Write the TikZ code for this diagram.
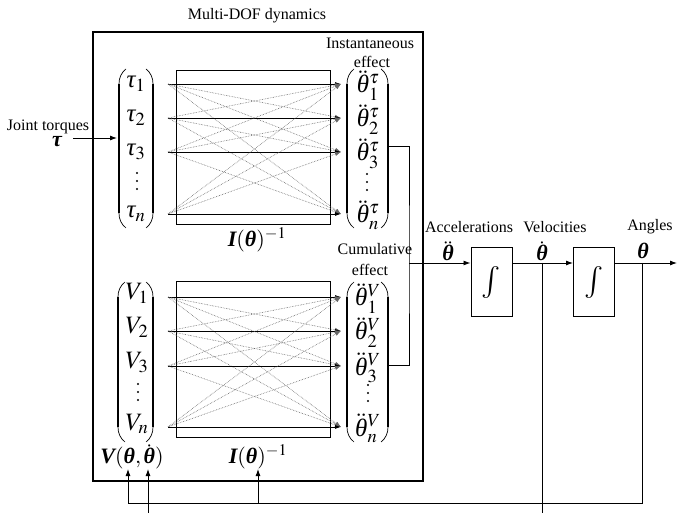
\documentclass[tikz,border=0pt]{standalone}
\usepackage{mathptmx}
\usepackage[no-math]{fontspec}
\setmainfont{Liberation Serif}
\usetikzlibrary{arrows.meta}

% italic and bold italic Greek taken from the text font
\newcommand\ith{\mbox{\itshape θ}}
\newcommand\itau{\mbox{\itshape τ}}
\newcommand\Bth{\mbox{\bfseries\itshape θ}}
\newcommand\Btau{\mbox{\bfseries\itshape τ}}

% tall vector parentheses: left x, right x, top y, bottom y
\newcommand\vecparens[4]{%
  \draw[line width=0.7pt] (#1+7,#3) .. controls (#1+2,#3+4) and (#1,#3+9) .. (#1,#3+15)
        -- (#1,#4-15) .. controls (#1,#4-9) and (#1+2,#4-4) .. (#1+7,#4);
  \draw[line width=2.6pt] (#1,#3+15) -- (#1,#4-15);
  \draw[line width=0.7pt] (#2-7,#3) .. controls (#2-2,#3+4) and (#2,#3+9) .. (#2,#3+15)
        -- (#2,#4-15) .. controls (#2,#4-9) and (#2-2,#4-4) .. (#2-7,#4);
  \draw[line width=2.6pt] (#2,#3+15) -- (#2,#4-15);
}
% vertical ellipsis of a vector: x, y of the middle dot
\newcommand\vdotsat[2]{%
  \foreach \d in {-8,0,8} \fill (#1,#2+\d) circle (1.15pt);
}

\begin{document}
\begin{tikzpicture}[x=1pt,y=-1pt,
  lbl/.style={font=\fontsize{16}{18}\selectfont, inner sep=0pt},
  mth/.style={font=\fontsize{22}{26}\selectfont, inner sep=0pt},
  ent/.style={font=\fontsize{25}{28}\selectfont, inner sep=0pt, anchor=base},
  frame/.style={draw, line width=1.1pt},
  wire/.style={line width=0.9pt},
  arr/.style={wire, -{Latex[length=7pt,width=5pt]}},
  fan/.style={black!60, densely dotted, line width=0.6pt, -{Latex[length=6pt,width=4pt]}},
  direct/.style={line width=0.8pt, -{Latex[length=6pt,width=4pt]}},
  intbox/.style={draw, line width=1pt, minimum width=41pt, minimum height=69pt, inner sep=0pt,
                 font=\fontsize{32}{34}\selectfont}]
\useasboundingbox (0,0) rectangle (678,513);

% ---- multi-DOF dynamics block ----
\draw[frame] (93,32) rectangle (423,481);
\node[lbl] (title) at (257,16) {Multi-DOF dynamics};
\node[lbl] (inst)  at (370,43) {Instantaneous};
\node[lbl] (inst2) at (372,62) {effect};
\node[lbl] (cum)   at (375,249) {Cumulative};
\node[lbl] (cum2)  at (370,270) {effect};

% torque input
\node[lbl] (jt)    at (48,127) {Joint torques};
\node[mth] (tauin) at (57,142) {\Btau};
\coordinate (tin0) at (73,138);
\coordinate (tin1) at (117,138);
\draw[arr] (tin0) -- (tin1);

% upper mapping: torques to instantaneous accelerations
\vecparens{119}{153}{69}{228}
\vecparens{347}{388}{69}{228}
\draw[line width=1pt] (176,71) rectangle (330,225);
\foreach \y [count=\i] in {84,118,152,214} {
  \coordinate (uL\i) at (168,\y);
  \coordinate (uR\i) at (341,\y);
}
\foreach \i in {1,...,4} \foreach \j in {1,...,4} {
  \ifnum\i=\j \draw[direct] (uL\i) -- (uR\j); \else \draw[fan] (uL\i) -- (uR\j); \fi
}
\node[ent] (t1) at (136,88)  {$\itau_1$};
\node[ent] (t2) at (136,122) {$\itau_2$};
\node[ent] (t3) at (136,156) {$\itau_3$};
\vdotsat{137}{181}
\node[ent] (tn) at (136,218) {$\itau_n$};
\node[ent] (a1) at (368,93)  {$\ddot{\ith}{}_1^{\tau}$};
\node[ent] (a2) at (368,127) {$\ddot{\ith}{}_2^{\tau}$};
\node[ent] (a3) at (368,161) {$\ddot{\ith}{}_3^{\tau}$};
\vdotsat{367}{182}
\node[ent] (an) at (368,223) {$\ddot{\ith}{}_n^{\tau}$};
\node[mth] (Iu) at (257,240) {$\mbox{\bfseries\itshape I}(\Bth)^{-1}$};

% lower mapping: velocity terms to cumulative accelerations
\vecparens{118}{153}{282}{442}
\vecparens{347}{388}{282}{442}
\draw[line width=1pt] (176,282) rectangle (330,437);
\foreach \y [count=\i] in {297,331,366,427} {
  \coordinate (lL\i) at (168,\y);
  \coordinate (lR\i) at (341,\y);
}
\foreach \i in {1,...,4} \foreach \j in {1,...,4} {
  \ifnum\i=\j \draw[direct] (lL\i) -- (lR\j); \else \draw[fan] (lL\i) -- (lR\j); \fi
}
\node[ent] (v1) at (137,300) {$V_1$};
\node[ent] (v2) at (137,334) {$V_2$};
\node[ent] (v3) at (137,369) {$V_3$};
\vdotsat{138}{392}
\node[ent] (vn) at (137,430) {$V_n$};
\node[ent] (b1) at (368,306) {$\ddot{\ith}{}_1^{V}$};
\node[ent] (b2) at (368,340) {$\ddot{\ith}{}_2^{V}$};
\node[ent] (b3) at (368,375) {$\ddot{\ith}{}_3^{V}$};
\vdotsat{368}{393}
\node[ent] (bn) at (368,436) {$\ddot{\ith}{}_n^{V}$};
\node[mth] (Vt) at (132,457) {$\mbox{\bfseries\itshape V}(\Bth,\dot{\Bth})$};
\node[mth] (Il) at (258,457) {$\mbox{\bfseries\itshape I}(\Bth)^{-1}$};

% summing the two effects
\coordinate (uo)  at (389,146);
\coordinate (lo)  at (389,365);
\coordinate (sum) at (409,263);
\draw[wire] (uo) -| (sum) |- (lo);

% integrators
\node[intbox] (int1) at (491.5,282.5) {$\textstyle\int$};
\node[intbox] (int2) at (594,282.5)   {$\textstyle\int$};
\draw[arr] (sum) -- (sum -| int1.west);
\draw[arr] (int1.east |- sum) -- (int2.west |- sum);
\coordinate (out) at (677,263);
\draw[arr] (int2.east |- sum) -- (out);

\node[lbl] (acc)  at (469,227) {Accelerations};
\node[lbl] (vel)  at (555,227) {Velocities};
\node[lbl] (ang)  at (650,227) {Angles};
\node[mth] (accs) at (448,251) {$\ddot{\Bth}$};
\node[mth] (vels) at (542,251) {$\dot{\Bth}$};
\node[mth] (angs) at (643,251) {\Bth};

% feedback of states
\coordinate (vtap) at (542,263);
\coordinate (vend) at (542,513);
\coordinate (atap) at (642,263);
\coordinate (acor) at (642,503);
\coordinate (fb1)  at (128,503);
\coordinate (fb2)  at (258,503);
\coordinate (fb3)  at (148,513);
\draw[wire] (vtap) -- (vend);
\draw[wire] (atap) -- (acor) -- (fb1);
\draw[arr] (fb1) -- (128,469);
\draw[arr] (fb2) -- (258,469);
\draw[arr] (fb3) -- (148,469);
\end{tikzpicture}
\end{document}
